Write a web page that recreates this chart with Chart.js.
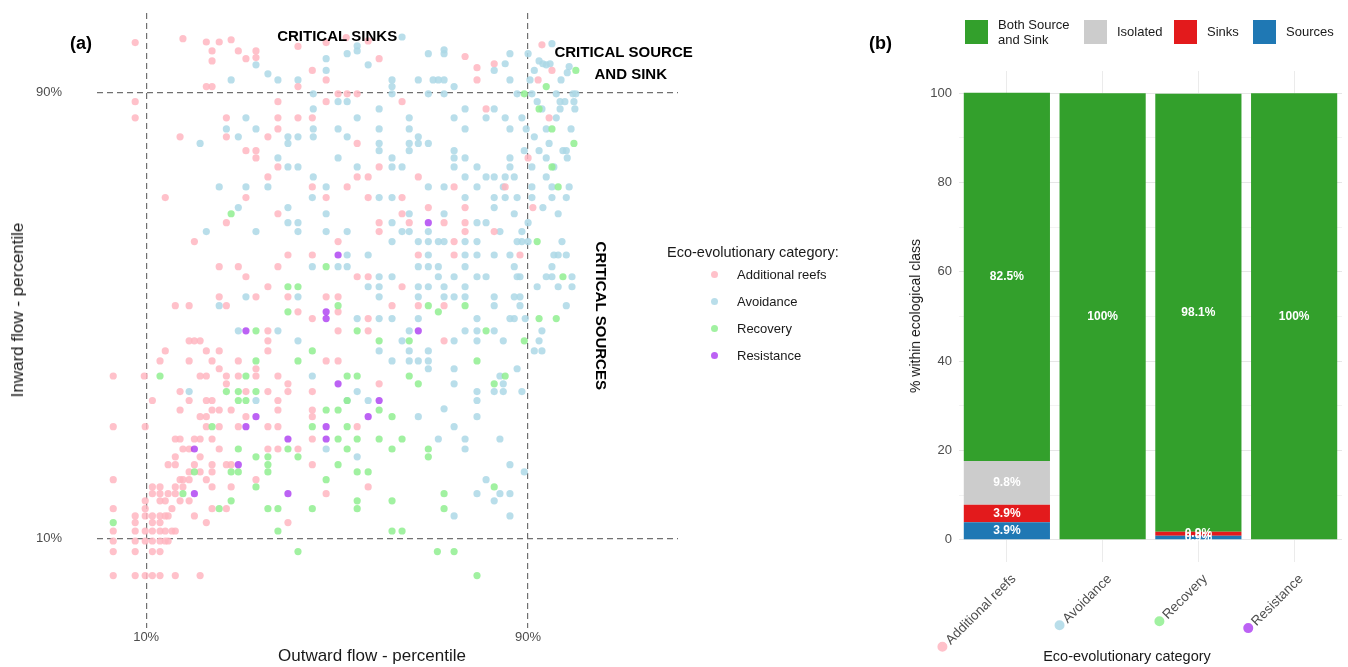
<!DOCTYPE html>
<html>
<head>
<meta charset="utf-8">
<script src="https://cdn.jsdelivr.net/npm/chart.js@4.4.1/dist/chart.umd.min.js"></script>
<style>
  body { margin: 0; background: #fff; font-family: "Liberation Sans", Arial, sans-serif; }
  #wrap { position: relative; width: 1348px; height: 667px; overflow: hidden; }
  #scatterBox { position: absolute; left: 0; top: 0; width: 700px; height: 667px; }
  #barBox { position: absolute; left: 860px; top: 0; width: 488px; height: 667px; }
  .txt { position: absolute; white-space: nowrap; color: #1a1a1a; }
  .rot { transform: translate(-50%, -50%) rotate(-90deg); }
  .ctr { transform: translate(-50%, -50%); }
  .sq { position: absolute; width: 23px; height: 24px; }
  .dot { position: absolute; width: 7px; height: 7px; border-radius: 50%; }
</style>
</head>
<body>
<div id="wrap">
  <div id="scatterBox"><canvas id="scatter"></canvas></div>
  <div id="barBox"><canvas id="bars"></canvas></div>

  <div class="txt" style="left:70px; top:33px; font-size:18px; font-weight:bold; color:#000">(a)</div>
  <div class="txt" style="left:869px; top:33px; font-size:18px; font-weight:bold; color:#000">(b)</div>

  <div class="txt ctr" style="left:372px; top:656px; font-size:17px">Outward flow - percentile</div>
  <div class="txt rot" style="left:18px; top:310px; font-size:17px">Inward flow - percentile</div>
  <div class="txt rot" style="left:915px; top:316px; font-size:14px">% within ecological class</div>
  <div class="txt ctr" style="left:1127px; top:656px; font-size:14.5px">Eco-evolutionary category</div>

  <div id="legA"></div>
  <div id="legB"></div>
</div>

<script>
// ---- data ----

const ecoCats = ['Additional reefs', 'Avoidance', 'Recovery', 'Resistance'];

// panel (a): [outward percentile, inward percentile]
const reefsPts = [
  [7.7,99.0],[17.7,99.7],[22.6,99.1],[25.3,99.1],[27.8,99.5],[23.8,97.5],[29.3,97.5],[33.0,97.5],[23.8,95.7],[30.9,96.1],
  [33.0,96.3],[22.6,91.1],[23.8,91.1],[7.7,88.4],[7.7,85.5],[26.8,85.5],[17.1,82.1],[26.8,82.1],[30.9,79.6],[33.0,79.6],
  [33.0,78.3],[14.0,71.2],[30.9,71.2],
  [51.9,99.9],[56.5,99.3],[41.8,98.3],[47.7,99.0],[58.8,96.1],[44.8,94.0],[41.8,91.1],[47.7,92.3],[50.2,89.8],[52.1,89.8],
  [54.2,89.8],[37.6,88.4],[47.7,88.4],[63.6,88.4],[37.6,85.5],[41.8,85.5],[44.8,85.5],[37.6,83.5],[35.5,82.1],[54.2,80.9],
  [37.6,76.7],[58.8,76.7],[35.5,74.9],[54.2,74.9],[56.5,74.9],[67.0,74.9],[44.8,73.1],[52.1,73.1],[47.7,71.2],[56.5,71.2],
  [63.6,71.2],[69.1,69.4],[37.6,68.3],[63.6,68.3],
  [92.9,98.6],[76.8,96.5],[79.3,94.5],[82.9,95.2],[95.0,94.0],[79.3,92.3],[92.1,92.3],[81.2,87.1],[94.4,85.5],[90.0,78.3],
  [74.5,73.1],[85.2,73.1],[76.8,69.4],[91.0,69.4],
  [26.8,66.7],[20.1,63.3],[25.3,58.8],[29.3,58.8],[30.9,57.0],[25.3,53.4],[33.0,53.4],[16.1,51.8],[19.0,51.8],[26.8,51.8],
  [19.0,45.5],[20.1,45.5],[21.3,45.5],[14.0,43.7],[22.6,43.7],[25.3,43.7],[12.9,41.9],[19.0,41.9],[23.8,41.9],[29.3,41.9],
  [25.3,40.5],[33.0,40.5],[3.1,39.2],[9.6,39.2],[21.3,39.2],[22.6,39.2],[26.8,39.2],[29.3,39.2],[33.0,39.2],[26.8,37.8],
  [17.1,36.4],[30.9,36.4],[11.3,34.8],[19.0,34.8],[22.6,34.8],[23.8,34.8],
  [58.8,66.7],[65.1,66.7],[58.8,65.1],[50.2,63.3],[39.7,60.9],[44.8,60.9],[67.0,60.9],[37.6,58.8],[54.2,57.0],[56.5,57.0],
  [35.5,55.2],[63.6,55.2],[39.7,53.4],[47.7,53.4],[50.2,53.4],[61.5,51.8],[67.0,51.8],[41.8,50.7],[50.2,50.7],[44.8,49.5],
  [56.5,49.5],[35.5,47.3],[50.2,47.3],[56.5,47.3],[35.5,45.5],[35.5,43.7],[50.2,41.9],[37.6,39.2],[39.7,37.8],[58.8,37.8],
  [35.5,36.4],[39.7,36.4],[44.8,36.4],[37.6,34.8],
  [72.4,66.7],[76.8,66.7],[76.8,65.1],[82.9,65.1],[74.5,63.3],[74.5,60.9],[88.3,60.9],[72.4,51.8],[72.4,45.5],
  [17.1,33.1],[21.3,31.9],[22.6,31.9],[23.8,33.1],[25.3,33.1],[27.8,33.1],[3.1,30.1],[9.8,30.1],[22.6,30.1],[25.3,30.1],
  [29.3,30.1],[16.1,27.9],[17.1,27.9],[20.1,27.9],[21.3,27.9],[23.8,27.9],[17.7,26.1],[19.0,26.1],[25.3,26.1],[16.1,24.7],
  [21.3,24.7],[14.6,23.3],[16.1,23.3],[20.1,23.3],[23.8,23.3],[26.8,23.3],[27.8,23.3],[19.0,22.0],[21.3,22.0],[23.8,22.0],
  [3.1,20.6],[17.1,20.6],[17.7,20.6],[19.0,20.6],[22.6,20.6],[33.0,20.6],[11.3,19.3],[12.9,19.3],[16.1,19.3],[17.7,19.3],
  [23.8,19.3],[27.8,19.3],[11.3,18.1],[12.9,18.1],[14.6,18.1],[16.1,18.1],[9.8,16.8],[12.9,16.8],[14.0,16.8],[17.1,16.8],
  [19.0,16.8],[3.1,15.4],[9.8,15.4],[15.4,15.4],[23.8,15.4],[26.8,15.4],[7.7,14.1],[9.8,14.1],[11.3,14.1],[12.9,14.1],
  [14.0,14.1],[14.6,14.1],[20.1,14.1],[7.7,12.9],[11.3,12.9],[12.9,12.9],[22.6,12.9],[3.1,11.4],[7.7,11.4],[9.8,11.4],
  [11.3,11.4],[12.9,11.4],[14.0,11.4],[15.4,11.4],[16.1,11.4],[3.1,9.6],[7.7,9.6],[9.8,9.6],[11.3,9.6],[12.9,9.6],
  [14.0,9.6],[14.6,9.6],[3.1,7.7],[7.7,7.7],[11.3,7.7],[12.9,7.7],[3.1,3.4],[7.7,3.4],[9.8,3.4],[11.3,3.4],
  [12.9,3.4],[16.1,3.4],[21.3,3.4],
  [37.6,33.1],[44.8,33.1],[35.5,30.1],[37.6,30.1],[44.8,27.9],[35.5,26.1],[37.6,26.1],[41.8,26.1],[44.8,23.3],[56.5,19.3],
  [47.7,18.1],[30.9,31.9],[44.8,31.9],[54.2,30.1],[39.7,12.9],[47.7,41.9]
];

const avoidPts = [
  [33.0,95.0],[27.8,92.3],[30.9,85.5],[26.8,83.5],[33.0,83.5],[29.3,82.1],[21.3,80.9],[25.3,73.1],[30.9,73.1],[29.3,69.4],
  [63.6,100],[54.2,98.4],[54.2,97.5],[52.1,97.0],[69.1,97.0],[47.7,96.1],[56.5,95.0],[47.7,94.0],[35.5,93.4],[37.6,92.3],
  [41.8,92.3],[61.5,92.3],[61.5,91.1],[67.0,92.3],[70.1,92.3],[45.0,89.8],[61.5,89.8],[69.1,89.8],[50.2,88.4],[52.1,88.4],
  [45.0,87.1],[58.8,87.1],[54.2,85.5],[65.1,85.5],[45.0,83.5],[50.2,83.5],[58.8,83.5],[65.1,83.5],[39.7,82.1],[41.8,82.1],
  [45.0,82.1],[52.1,82.1],[67.0,82.1],[39.7,80.9],[58.8,80.9],[58.8,79.6],[65.1,80.9],[67.0,80.9],[69.1,80.9],[65.1,79.6],
  [37.6,78.3],[50.2,78.3],[61.5,78.3],[39.7,76.7],[41.8,76.7],[54.2,76.7],[61.5,76.7],[63.6,76.7],[45.0,74.9],[35.5,73.1],
  [47.7,73.1],[69.1,73.1],[44.8,71.2],[58.8,71.2],[61.5,71.2],[39.7,69.4],[47.7,68.3],[65.1,68.3],
  [95.0,98.8],[72.4,97.7],[72.4,97.0],[86.2,97.0],[90.0,97.0],[92.3,95.7],[93.1,95.2],[93.8,95.0],[94.6,95.2],[98.6,94.7],
  [85.2,95.2],[82.9,94.0],[91.3,94.0],[98.2,93.6],[71.2,92.3],[72.4,92.3],[86.2,92.3],[90.4,92.3],[96.9,92.3],[74.5,91.1],
  [72.4,89.8],[87.7,89.8],[90.8,89.8],[95.9,89.8],[99.4,89.8],[100,89.8],[91.9,88.4],[96.7,88.4],[97.7,88.4],[99.6,88.4],
  [76.8,87.1],[82.9,87.1],[92.9,87.1],[96.7,87.1],[99.8,87.1],[74.5,85.5],[81.2,85.5],[85.2,85.5],[88.7,85.5],[95.9,85.5],
  [76.8,83.5],[86.2,83.5],[89.6,83.5],[93.8,83.5],[99.0,83.5],[91.3,82.1],[94.4,80.9],[74.5,79.6],[89.2,79.6],[92.3,79.6],
  [97.3,79.6],[98.0,79.6],[74.5,78.3],[76.8,78.3],[86.2,78.3],[93.8,78.3],[98.2,78.3],[74.5,76.7],[79.3,76.7],[86.2,76.7],
  [90.8,76.7],[95.4,76.7],[76.8,74.9],[81.2,74.9],[82.9,74.9],[85.2,74.9],[87.1,74.9],[93.8,74.9],[72.4,73.1],[79.3,73.1],
  [84.8,73.1],[90.8,73.1],[95.0,73.1],[98.6,73.1],[76.8,71.2],[82.9,71.2],[85.2,71.2],[87.7,71.2],[90.8,71.2],[95.0,71.2],
  [98.0,71.2],[82.9,69.4],[93.1,69.4],[72.4,68.3],[87.1,68.3],[96.3,68.3],
  [22.6,65.1],[33.0,65.1],[30.9,53.4],[25.3,51.8],[29.3,47.3],[19.0,36.4],[33.0,34.8],
  [39.7,66.7],[41.8,66.7],[61.5,66.7],[41.8,65.1],[47.7,65.1],[52.1,65.1],[63.6,65.1],[65.1,65.1],[69.1,65.1],[61.5,63.3],
  [67.0,63.3],[69.1,63.3],[52.1,60.9],[56.5,60.9],[69.1,60.9],[44.8,58.8],[50.2,58.8],[52.1,58.8],[67.0,58.8],[69.1,58.8],
  [58.8,57.0],[61.5,57.0],[56.5,55.2],[58.8,55.2],[67.0,55.2],[69.1,55.2],[41.8,53.4],[58.8,53.4],[67.0,53.4],[54.2,49.5],
  [58.8,49.5],[61.5,49.5],[67.0,49.5],[37.6,47.3],[65.1,47.3],[41.8,45.5],[63.6,45.5],[58.8,43.7],[65.1,43.7],[69.1,43.7],
  [61.5,41.9],[65.1,41.9],[67.0,41.9],[69.1,41.9],[69.1,40.5],[44.8,39.2],[54.2,36.4],[52.1,34.8],[56.5,34.8],
  [79.3,66.7],[81.2,66.7],[90.0,66.7],[84.1,65.1],[88.7,65.1],[71.2,63.3],[72.4,63.3],[76.8,63.3],[79.3,63.3],[87.7,63.3],
  [88.7,63.3],[90.0,63.3],[97.1,63.3],[76.8,60.9],[79.3,60.9],[82.9,60.9],[86.2,60.9],[95.4,60.9],[96.3,60.9],[98.0,60.9],
  [71.2,58.8],[76.8,58.8],[87.1,58.8],[95.0,58.8],[71.2,57.0],[74.5,57.0],[79.3,57.0],[81.2,57.0],[87.7,57.0],[88.3,57.0],
  [93.8,57.0],[95.0,57.0],[99.2,57.0],[72.4,55.2],[76.8,55.2],[91.9,55.2],[96.3,55.2],[99.2,55.2],[72.4,53.4],[74.5,53.4],
  [76.8,53.4],[82.9,53.4],[87.1,53.4],[88.3,53.4],[82.9,51.8],[88.3,51.8],[98.0,51.8],[79.3,49.5],[86.2,49.5],[87.1,49.5],
  [89.4,49.5],[76.8,47.3],[79.3,47.3],[82.9,47.3],[92.9,47.3],[74.5,45.5],[79.3,45.5],[84.8,45.5],[92.3,45.5],[91.3,43.7],
  [92.9,43.7],[74.5,40.5],[87.7,40.5],[84.1,39.2],[74.5,37.8],[84.8,37.8],[79.3,36.4],[82.9,36.4],[84.8,36.4],[88.7,36.4],
  [79.3,34.8],[72.4,33.3],
  [67.0,31.9],[47.7,26.1],[54.2,24.7],
  [79.3,31.9],[74.5,30.1],[71.2,27.9],[76.8,27.9],[84.1,27.9],[76.8,26.1],[86.2,23.3],[89.2,22.0],[81.2,20.6],[79.3,18.1],
  [84.1,18.1],[86.2,18.1],[82.9,16.8],[74.5,14.1],[86.2,14.1]
];

const recovPts = [
  [27.8,68.3],
  [100,94.0],[93.8,91.1],[89.2,89.8],[92.3,87.1],[95.0,83.5],[99.6,80.9],[95.0,76.7],[96.3,73.1],
  [33.0,47.3],[33.0,41.9],[12.9,39.2],[30.9,39.2],[26.8,36.4],[29.3,36.4],[33.0,36.4],[29.3,34.8],[30.9,34.8],
  [47.7,58.8],[39.7,55.2],[41.8,55.2],[50.2,51.8],[69.1,51.8],[39.7,50.7],[54.2,47.3],[58.8,45.5],[65.1,45.5],[44.8,43.7],
  [41.8,41.9],[52.1,39.2],[54.2,39.2],[65.1,39.2],[67.0,37.8],[52.1,34.8],
  [91.9,63.3],[97.3,57.0],[76.8,51.8],[71.2,50.7],[92.3,49.5],[95.9,49.5],[81.2,47.3],[89.2,45.5],[79.3,41.9],[85.2,39.2],
  [82.9,37.8],
  [23.8,30.1],[29.3,26.1],[33.0,24.7],[20.1,22.0],[27.8,22.0],[29.3,22.0],[33.0,19.3],[17.7,18.1],[27.8,16.8],[25.3,15.4],
  [3.1,12.9],
  [47.7,33.1],[50.2,33.1],[58.8,33.1],[61.5,31.9],[44.8,30.1],[52.1,30.1],[50.2,27.9],[54.2,27.9],[58.8,27.9],[63.6,27.9],
  [39.7,26.1],[52.1,26.1],[61.5,26.1],[69.1,26.1],[35.5,24.7],[41.8,24.7],[69.1,24.7],[35.5,23.3],[50.2,23.3],[35.5,22.0],
  [54.2,22.0],[56.5,22.0],[47.7,20.6],[54.2,16.8],[61.5,16.8],[35.5,15.4],[37.6,15.4],[44.8,15.4],[54.2,15.4],[37.6,11.4],
  [61.5,11.4],[63.6,11.4],[41.8,7.7],[71.0,7.7],
  [82.9,19.3],[72.4,18.1],[72.4,15.4],[74.5,7.7],[79.3,3.4]
];

const resistPts = [
  [30.9,47.3],[69.1,66.7],[50.2,60.9],[47.7,50.7],[47.7,49.5],[67.0,47.3],[50.2,37.8],[58.8,34.8],
  [33.0,31.9],[30.9,30.1],[20.1,26.1],[29.3,23.3],[20.1,18.1],
  [56.5,31.9],[47.7,30.1],[39.7,27.9],[47.7,27.9],[39.7,18.1]
];

const xTicksA = [10, 90];
const yTicksA = [10, 90];

// panel (b): % within ecological class
const stackNames = ['Both Source\nand Sink', 'Isolated', 'Sinks', 'Sources'];
const bothPct = [82.5, 100, 98.1, 100];
const isolatedPct = [9.8, 0, 0, 0];
const sinksPct = [3.9, 0, 0.9, 0];
const sourcesPct = [3.9, 0, 0.9, 0];
const yTicksB = [0, 10, 20, 30, 40, 50, 60, 70, 80, 90, 100];

// ---- colours ----
const catColors = ['rgba(255,182,193,0.85)', 'rgba(173,216,230,0.85)', 'rgba(144,238,144,0.85)', 'rgba(160,32,240,0.7)'];
const stackColors = ['#33a02c', '#cccccc', '#e31a1c', '#1f78b4'];
const FONT = '"Liberation Sans", Arial, sans-serif';

// ---- legends (html) ----
let legA = document.getElementById('legA');
legA.innerHTML = '<div class="txt" style="left:667px; top:244px; font-size:14.5px">Eco-evolutionary category:</div>';
ecoCats.forEach((name, i) => {
    const y = 275 + i * 27;
    legA.innerHTML += `
        <div class="dot" style="left:711px; top:${y - 4}px; background:${catColors[i]}"></div>
        <div class="txt" style="left:737px; top:${y - 8}px; font-size:13px">${name}</div>`;
});

let legB = document.getElementById('legB');
const legBx = [965, 1084, 1174, 1253];
stackNames.forEach((name, i) => {
    const lines = name.split('\n');
    const ty = lines.length > 1 ? 17 : 24;
    legB.innerHTML += `
        <div class="sq" style="left:${legBx[i]}px; top:20px; background:${stackColors[i]}"></div>
        <div class="txt" style="left:${legBx[i] + 33}px; top:${ty}px; font-size:13px; line-height:15px">${lines.join('<br>')}</div>`;
});

// ---- plugins ----
const quadrantLabels = {
    id: 'quadrantLabels',
    afterDatasetsDraw(chart) {
        const { ctx, scales: { x, y } } = chart;
        ctx.save();
        ctx.fillStyle = '#000';
        ctx.font = `bold 15px ${FONT}`;
        ctx.textAlign = 'center';
        ctx.textBaseline = 'middle';
        ctx.fillText('CRITICAL SINKS', x.getPixelForValue(50), y.getPixelForValue(100));
        ctx.fillText('CRITICAL SOURCE', x.getPixelForValue(110), y.getPixelForValue(97.2));
        ctx.fillText('AND SINK', x.getPixelForValue(111.5), y.getPixelForValue(93.2));
        ctx.translate(x.getPixelForValue(105), y.getPixelForValue(50));
        ctx.rotate(Math.PI / 2);
        ctx.fillText('CRITICAL SOURCES', 0, 0);
        ctx.restore();
    }
};

const barLabels = {
    id: 'barLabels',
    afterDatasetsDraw(chart) {
        const ctx = chart.ctx;
        ctx.save();
        ctx.fillStyle = '#fff';
        ctx.font = `bold 12px ${FONT}`;
        ctx.textAlign = 'center';
        ctx.textBaseline = 'middle';
        chart.data.datasets.forEach((ds, i) => {
            chart.getDatasetMeta(i).data.forEach((bar, j) => {
                const v = ds.data[j];
                if (!v) return;
                const t = v === 100 ? '100%' : v.toFixed(1) + '%';
                ctx.fillText(t, bar.x, (bar.y + bar.base) / 2);
            });
        });
        ctx.restore();
    }
};

const LBL_SHIFT = 7;
const LBL_PAD = 9;

const tickDots = {
    id: 'tickDots',
    afterDraw(chart) {
        const ctx = chart.ctx;
        const xs = chart.scales.x;
        ctx.save();
        ctx.font = `13.5px ${FONT}`;
        xs.ticks.forEach((t, i) => {
            const w = ctx.measureText(ecoCats[i]).width;
            ctx.save();
            ctx.translate(xs.getPixelForTick(i) + LBL_SHIFT, xs.top + LBL_PAD);
            ctx.rotate(-Math.PI / 4);
            ctx.beginPath();
            ctx.arc(-w - 11, 3, 5, 0, Math.PI * 2);
            ctx.fillStyle = catColors[i];
            ctx.fill();
            ctx.restore();
        });
        ctx.restore();
    }
};

// ---- panel (a) scatter ----
const ptStyle = (data, i) => ({
    data: data.map(p => ({ x: p[0], y: p[1] })),
    backgroundColor: catColors[i],
    borderWidth: 0,
    pointRadius: 3.6,
    pointHoverRadius: 3.6
});

const dashedGrid = {
    color: '#707070',
    lineWidth: 1.2,
    drawTicks: false
};

new Chart(document.getElementById('scatter'), {
    type: 'scatter',
    data: {
        datasets: [
            ptStyle(resistPts, 3),
            ptStyle(recovPts, 2),
            ptStyle(reefsPts, 0),
            ptStyle(avoidPts, 1)
        ]
    },
    options: {
        responsive: true,
        maintainAspectRatio: false,
        animation: false,
        layout: { padding: { top: 13, right: 22, left: 0, bottom: 0 } },
        plugins: { legend: { display: false }, tooltip: { enabled: false } },
        scales: {
            x: {
                type: 'linear',
                min: -0.3,
                max: 121.4,
                afterBuildTicks: s => { s.ticks = xTicksA.map(v => ({ value: v })); },
                afterFit: s => { s.height = 39; s.paddingLeft = 0; s.paddingRight = 0; },
                grid: dashedGrid,
                border: { display: false, dash: [6, 4] },
                ticks: { callback: v => v + '%', color: '#4d4d4d', font: { size: 13, family: FONT }, padding: 2, maxRotation: 0 }
            },
            y: {
                type: 'linear',
                min: -6,
                max: 104.3,
                afterBuildTicks: s => { s.ticks = yTicksA.map(v => ({ value: v })); },
                afterFit: s => { s.width = 97; s.paddingTop = 0; s.paddingBottom = 0; },
                grid: dashedGrid,
                border: { display: false, dash: [6, 4] },
                ticks: { callback: v => v + '%', color: '#4d4d4d', font: { size: 13, family: FONT }, padding: 35 }
            }
        }
    },
    plugins: [quadrantLabels]
});

// ---- panel (b) stacked bars ----
const barSets = [sourcesPct, sinksPct, isolatedPct, bothPct];
const barIdx = [3, 2, 1, 0];

new Chart(document.getElementById('bars'), {
    type: 'bar',
    data: {
        labels: ecoCats,
        datasets: barSets.map((d, k) => ({
            label: stackNames[barIdx[k]],
            data: d,
            backgroundColor: stackColors[barIdx[k]],
            borderWidth: 0,
            barPercentage: 0.9,
            categoryPercentage: 1.0
        }))
    },
    options: {
        responsive: true,
        maintainAspectRatio: false,
        animation: false,
        layout: { padding: { top: 71, right: 6, left: 0, bottom: 0 } },
        plugins: { legend: { display: false }, tooltip: { enabled: false } },
        scales: {
            x: {
                stacked: true,
                afterFit: s => { s.height = 105; },
                grid: { offset: false, color: '#ebebeb', drawTicks: false },
                border: { display: false },
                ticks: {
                    autoSkip: false, minRotation: 45, maxRotation: 45, color: '#4d4d4d',
                    font: { size: 13.5, family: FONT }, padding: LBL_PAD, labelOffset: LBL_SHIFT
                }
            },
            y: {
                stacked: true,
                min: -5,
                max: 105,
                afterBuildTicks: s => { s.ticks = yTicksB.map(v => ({ value: v })); },
                afterFit: s => { s.width = 99; },
                grid: {
                    drawTicks: false,
                    color: c => (c.tick && c.tick.value % 20 === 0) ? '#e6e6e6' : '#f3f3f3'
                },
                border: { display: false },
                ticks: { callback: v => v % 20 === 0 ? v : '', color: '#4d4d4d', font: { size: 13, family: FONT }, padding: 7 }
            }
        }
    },
    plugins: [barLabels, tickDots]
});
</script>
</body>
</html>
